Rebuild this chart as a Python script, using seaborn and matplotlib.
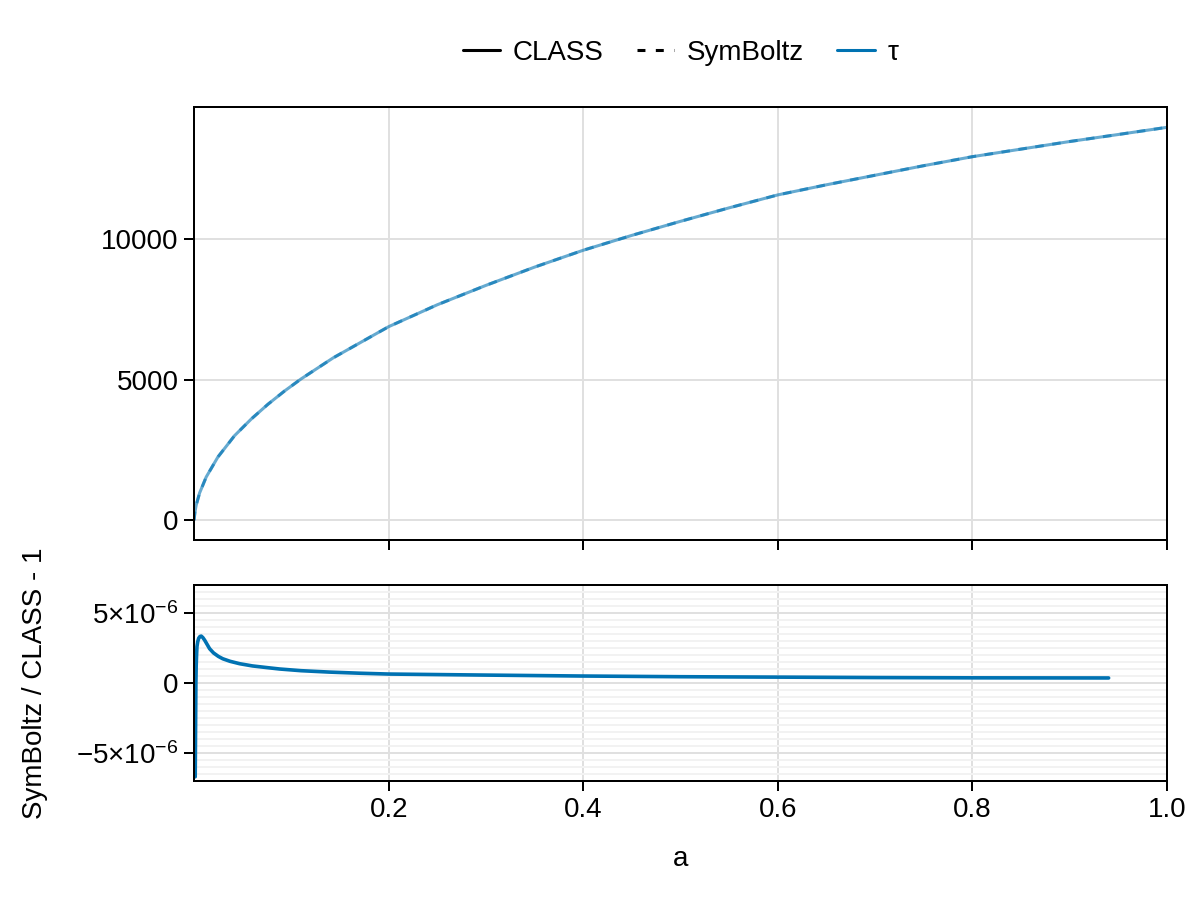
import matplotlib
matplotlib.use("Agg")
import matplotlib.pyplot as plt
from matplotlib.lines import Line2D
from matplotlib.ticker import MultipleLocator, FixedLocator
import numpy as np
import pandas as pd
import seaborn as sns

# ---------------- data ----------------
a_top = [0.0, 0.001, 0.0023, 0.0057, 0.0125, 0.0245, 0.0416, 0.059, 0.076, 0.093,
         0.11, 0.143, 0.2, 0.25, 0.3, 0.35, 0.4, 0.45, 0.5, 0.55, 0.6, 0.65,
         0.7, 0.75, 0.8, 0.85, 0.9, 0.95, 1.0]
tau_class = [0, 300, 540, 960, 1530, 2240, 3000, 3600, 4120, 4590,
             5020, 5770, 6880, 7660, 8350, 9000, 9600, 10130, 10630, 11110, 11570, 11930,
             12270, 12610, 12930, 13200, 13470, 13720, 13975]
tau_symboltz = [0, 300, 540, 960, 1530, 2240, 3000, 3600, 4120, 4590,
                5020, 5770, 6880, 7660, 8350, 9000, 9600, 10130, 10630, 11110, 11570, 11930,
                12270, 12610, 12930, 13200, 13470, 13720, 13975]

a_rel = [0.0012, 0.0016, 0.0019, 0.0022, 0.0026, 0.003, 0.0038, 0.0048, 0.006,
         0.0074, 0.009, 0.011, 0.0135, 0.016, 0.02, 0.025, 0.0296, 0.037, 0.0468,
         0.06, 0.075, 0.088, 0.11, 0.139, 0.17, 0.2, 0.294, 0.397, 0.5, 0.6, 0.7,
         0.8, 0.94]
rel_diff = [-6.7e-6, -3.0e-6, 0.0, 1.2e-6, 2.0e-6, 2.6e-6, 2.95e-6, 3.2e-6, 3.32e-6,
            3.35e-6, 3.25e-6, 3.05e-6, 2.75e-6, 2.45e-6, 2.15e-6, 1.9e-6, 1.73e-6,
            1.55e-6, 1.38e-6, 1.22e-6, 1.1e-6, 1.0e-6, 0.88e-6, 0.78e-6, 0.7e-6,
            0.64e-6, 0.57e-6, 0.5e-6, 0.45e-6, 0.42e-6, 0.39e-6, 0.37e-6, 0.36e-6]

x_ticks = [0.2, 0.4, 0.6, 0.8, 1.0]
x_ticklabels = ["0.2", "0.4", "0.6", "0.8", "1.0"]
top_yticks = [0, 5000, 10000]
bot_yticks = [-5e-6, 0, 5e-6]
bot_yticklabels = [r"$-5{\times}10^{-6}$", "0", r"$5{\times}10^{-6}$"]

legend_labels = ["CLASS", "SymBoltz", "τ"]

# ---------------- style ----------------
sns.set_theme(style="white")
plt.rcParams["font.family"] = ["Liberation Sans", "DejaVu Sans"]
plt.rcParams["mathtext.default"] = "regular"
plt.rcParams["text.color"] = "black"
plt.rcParams["axes.labelcolor"] = "black"

BLUE = "#0072B2"
LW = 2.2
SPW = 1.44
GRID = "#e0e0e0"
MINOR_GRID = "#f2f2f2"
FS = 20
DASH = (0, (2.8, 2.8))
LEG_DASH = (0, (2.6, 3.4))

fig = plt.figure(figsize=(12, 9), dpi=100)
ax1 = fig.add_axes([0.1617, 0.4, 0.8108, 0.4811])
ax2 = fig.add_axes([0.1617, 0.1322, 0.8108, 0.2178])

df_top = pd.DataFrame({"a": a_top, "CLASS": tau_class, "SymBoltz": tau_symboltz})
df_rel = pd.DataFrame({"a": a_rel, "rel": rel_diff})

sns.lineplot(data=df_top, x="a", y="CLASS", ax=ax1, color=BLUE, alpha=0.6,
             lw=LW, sort=False, estimator=None)
sns.lineplot(data=df_top, x="a", y="SymBoltz", ax=ax1, color=BLUE, alpha=0.6,
             lw=LW, sort=False, estimator=None, linestyle=DASH)
sns.lineplot(data=df_rel, x="a", y="rel", ax=ax2, color=BLUE, lw=2.6,
             sort=False, estimator=None)

for ax in (ax1, ax2):
    ax.set_xlim(0.0, 1.0)
    ax.xaxis.set_major_locator(FixedLocator(x_ticks))
    ax.set_axisbelow(True)
    ax.grid(True, which="major", color=GRID, lw=SPW, alpha=1.0)
    for s in ax.spines.values():
        s.set_visible(True)
        s.set_color("black")
        s.set_linewidth(SPW)
    ax.tick_params(which="major", direction="out", length=7.2, width=SPW,
                   color="black", labelsize=FS, pad=4, bottom=True, left=True,
                   labelcolor="black")
    ax.set_xlabel("")
    ax.set_ylabel("")

ax1.set_ylim(-712, 14698)
ax1.yaxis.set_major_locator(FixedLocator(top_yticks))
ax1.set_yticklabels([str(v) for v in top_yticks])
ax1.tick_params(labelbottom=False)

ax2.set_ylim(-7e-6, 7e-6)
ax2.yaxis.set_major_locator(FixedLocator(bot_yticks))
ax2.set_yticklabels(bot_yticklabels)
ax2.yaxis.set_minor_locator(MultipleLocator(5e-7))
ax2.grid(True, which="minor", axis="y", color=MINOR_GRID, lw=SPW, alpha=1.0)
ax2.tick_params(which="minor", length=0)
ax2.set_xticklabels(x_ticklabels)
ax2.set_xlabel("a", fontsize=FS, color="black")
ax2.set_ylabel("SymBoltz / CLASS - 1", fontsize=FS, color="black")
ax2.yaxis.set_label_coords(-0.150, 0.5)
ax2.xaxis.set_label_coords(0.5, -0.33)

handles = [Line2D([], [], color="black", lw=LW),
           Line2D([], [], color="black", lw=LW, linestyle=LEG_DASH),
           Line2D([], [], color=BLUE, lw=LW)]
fig.legend(handles, legend_labels, loc="center", bbox_to_anchor=(0.567, 0.941),
           ncol=3, frameon=False, fontsize=FS, handlelength=1.35,
           handletextpad=0.45, columnspacing=1.2, labelcolor="black")

fig.savefig("out.png", dpi=100)
